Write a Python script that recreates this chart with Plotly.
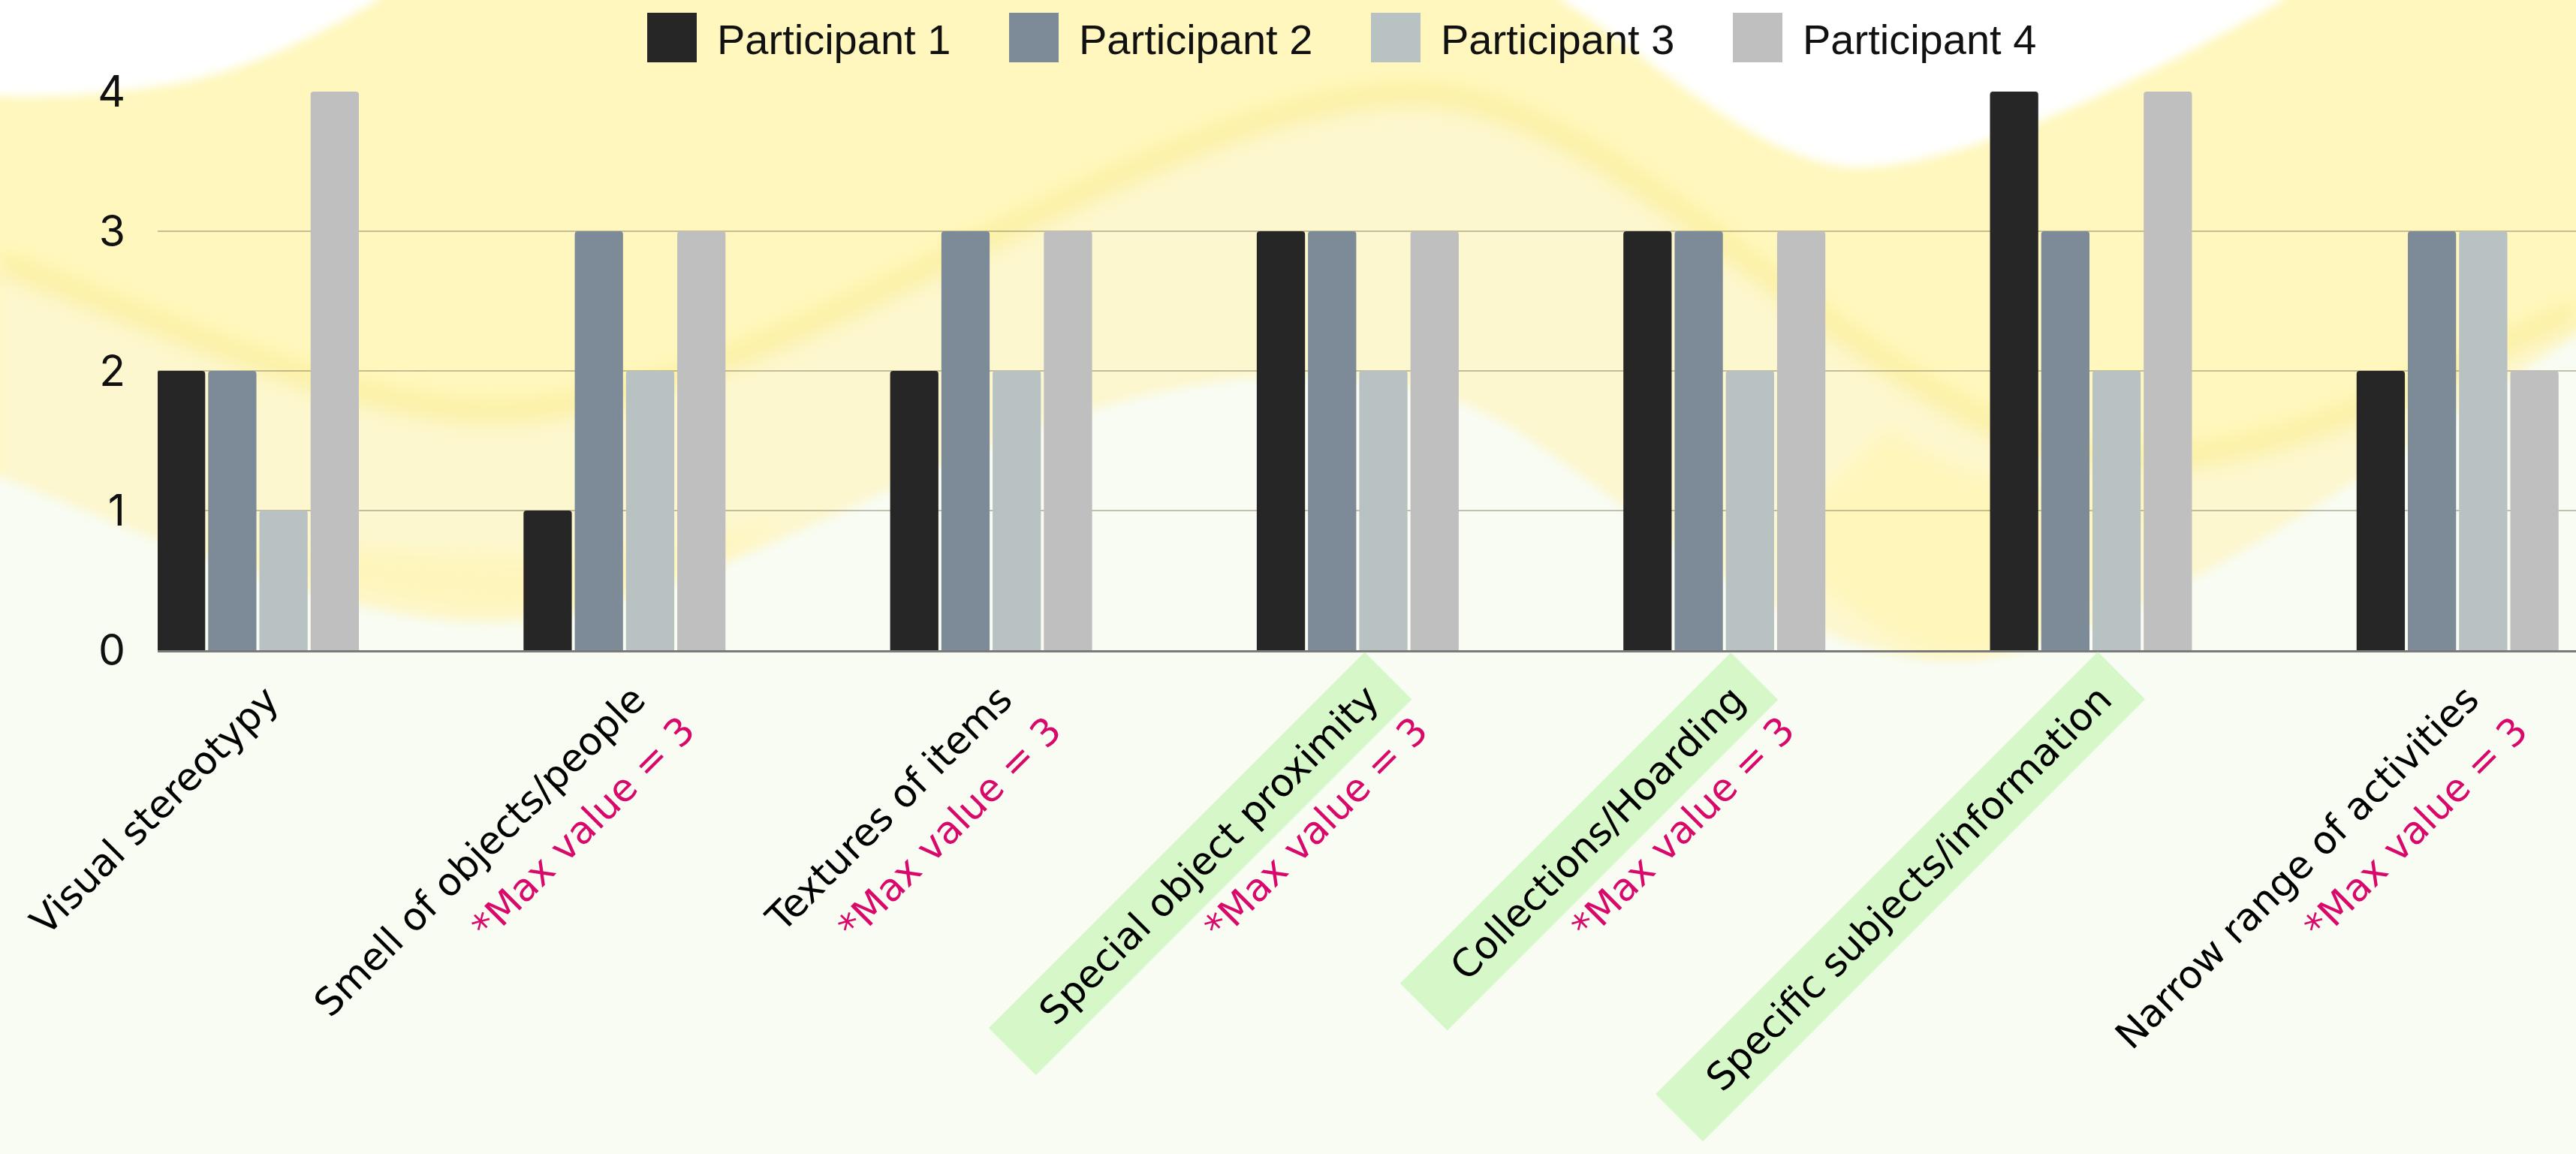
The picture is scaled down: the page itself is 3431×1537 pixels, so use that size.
import base64
import plotly.graph_objects as go

# ---------------- data ----------------
categories = [
    "Visual stereotypy",
    "Smell of objects/people",
    "Textures of items",
    "Special object proximity",
    "Collections/Hoarding",
    "Specific subjects/information",
    "Narrow range of activities",
]
notes = ["", "*Max value = 3", "*Max value = 3", "*Max value = 3",
         "*Max value = 3", "", "*Max value = 3"]
highlighted = [False, False, False, True, True, True, False]

series_names = ["Participant 1", "Participant 2", "Participant 3", "Participant 4"]
participant_1 = [2, 1, 2, 3, 3, 4, 2]
participant_2 = [2, 3, 3, 3, 3, 3, 3]
participant_3 = [1, 2, 2, 2, 2, 2, 3]
participant_4 = [4, 3, 3, 3, 3, 4, 2]
y_tick_values = [0, 1, 2, 3, 4]

# ---------------- style ----------------
W, H = 3431, 1537
ML, MR, MT, MB = 210, 0, 122, 671
PW, PH = W - ML - MR, H - MT - MB
colors = ["#262626", "#7d8a98", "#b8c2c2", "#bfbfbf"]
PINK = "#d9096c"
GREEN = "#d6f8c8"
NBSP = "\u00a0"
LABEL_FONT = "DejaVu Sans"
LABEL_SIZE = 51
PAD = 15

fig = go.Figure()
for name, vals, col in zip(series_names,
                           [participant_1, participant_2, participant_3, participant_4],
                           colors):
    fig.add_bar(x=categories, y=vals, name=name,
                marker=dict(color=col, line=dict(width=0), cornerradius=4))

# category labels (rotated, with optional highlight and note line)
for cat, note, hl in zip(categories, notes, highlighted):
    lead = NBSP * 3 if hl else ""
    fig.add_annotation(
        x=cat, y=0, xref="x", yref="paper", text=lead + cat + NBSP,
        textangle=-45, xanchor="right", yanchor="top", showarrow=False,
        bgcolor=GREEN if hl else "rgba(0,0,0,0)", borderpad=PAD, borderwidth=0,
        font=dict(family=LABEL_FONT, size=LABEL_SIZE, color="#000000"),
        xshift=72, yshift=-3)
    if note:
        fig.add_annotation(
            x=cat, y=0, xref="x", yref="paper", text=note + NBSP,
            textangle=-45, xanchor="right", yanchor="top", showarrow=False,
            bgcolor="rgba(0,0,0,0)", borderpad=PAD, borderwidth=0,
            font=dict(family=LABEL_FONT, size=LABEL_SIZE, color=PINK),
            xshift=137, yshift=-44)

# ---------------- decorative background ----------------
svg = """<svg xmlns="http://www.w3.org/2000/svg" width="1568" height="702" viewBox="0 0 1568 702" preserveAspectRatio="none">
<defs>
<filter id="b" x="-20%" y="-20%" width="140%" height="140%"><feGaussianBlur stdDeviation="3"/></filter>
<filter id="b2" x="-20%" y="-20%" width="140%" height="140%"><feGaussianBlur stdDeviation="6"/></filter>
</defs>
<rect width="1568" height="702" fill="#fff7bd"/>
<path filter="url(#b)" fill="#fdf7d2" fill-opacity="0.9" d="M0,160 C120,205 220,251 300,251 C470,251 700,58 860,58 C1000,58 1150,280 1300,280 C1400,280 1500,220 1568,190 L1568,702 L0,702 Z"/>
<path filter="url(#b2)" fill="none" stroke="#fbee9a" stroke-opacity="0.75" stroke-width="14" d="M0,160 C120,205 220,251 300,251 C470,251 700,58 860,58 C1000,58 1150,280 1300,280 C1400,280 1500,220 1568,190"/>
<path filter="url(#b2)" fill="#fff6b6" fill-opacity="0.8" d="M1080,330 C1130,380 1160,400 1200,400 C1260,400 1300,330 1330,280 C1280,300 1200,300 1150,260 Z"/>
<path filter="url(#b2)" fill="#fff5b4" fill-opacity="0.7" d="M120,330 C200,360 260,372 310,372 C380,372 440,340 480,318 C420,330 360,340 300,338 C240,336 180,330 120,330 Z"/>
<path filter="url(#b)" fill="#ffffff" d="M-10,-10 L235,-10 L230,0 C200,18 150,45 100,52 C60,58 30,60 -10,58 Z"/>
<path filter="url(#b)" fill="#ffffff" d="M950,-10 L950,0 C1000,30 1070,100 1130,102 C1200,102 1320,40 1390,0 L1390,-10 Z"/>
<path filter="url(#b)" fill="#f8fcf3" d="M-10,286 C80,320 200,380 300,379 C420,378 560,270 700,240 C790,220 860,225 920,260 C1000,310 1080,395 1180,402 C1280,405 1420,300 1578,198 L1578,712 L-10,712 Z"/>
</svg>"""
src = "data:image/svg+xml;base64," + base64.b64encode(svg.encode()).decode()
fig.add_layout_image(source=src, xref="paper", yref="paper",
                     x=-ML / PW, y=1 + MT / PH, sizex=W / PW, sizey=H / PH,
                     xanchor="left", yanchor="top", sizing="stretch", layer="below")

fig.update_layout(
    width=W, height=H,
    margin=dict(l=ML, r=MR, t=MT, b=MB, pad=0),
    paper_bgcolor="#f8fcf3", plot_bgcolor="rgba(0,0,0,0)",
    barmode="group", bargap=0.441, bargroupgap=0.058,
    showlegend=True,
    legend=dict(orientation="h", x=(835 - ML) / PW, xanchor="left",
                y=1 + (MT - 50) / PH, yanchor="middle",
                font=dict(family="Liberation Sans, Arial", size=56, color="#111111"),
                itemwidth=110, entrywidth=357, entrywidthmode="pixels",
                bgcolor="rgba(0,0,0,0)", traceorder="normal"),
    xaxis=dict(range=[-0.2734, 6.323], showticklabels=False, showgrid=False,
               showline=True, linecolor="#7a7a7a", linewidth=3, ticks="",
               zeroline=False, fixedrange=True),
    yaxis=dict(range=[0, 4], tickvals=y_tick_values, showgrid=True,
               gridcolor="rgba(120,110,80,0.42)", gridwidth=2, zeroline=False,
               showline=False, ticks="", ticklabelstandoff=42,
               tickfont=dict(family="Inter", size=57, color="#111111"),
               fixedrange=True),
)

post = """
var gd = document.getElementById('{plot_id}');
function fixLegend(){
  var ps = gd.querySelectorAll('.legend .legendpoints path');
  ps.forEach(function(p){ p.setAttribute('d','M33,33H-33V-33H33Z'); });
}
fixLegend();
if (gd.on) { gd.on('plotly_afterplot', fixLegend); }
setTimeout(fixLegend, 300);
"""

fig.write_html("out.html", post_script=post)
